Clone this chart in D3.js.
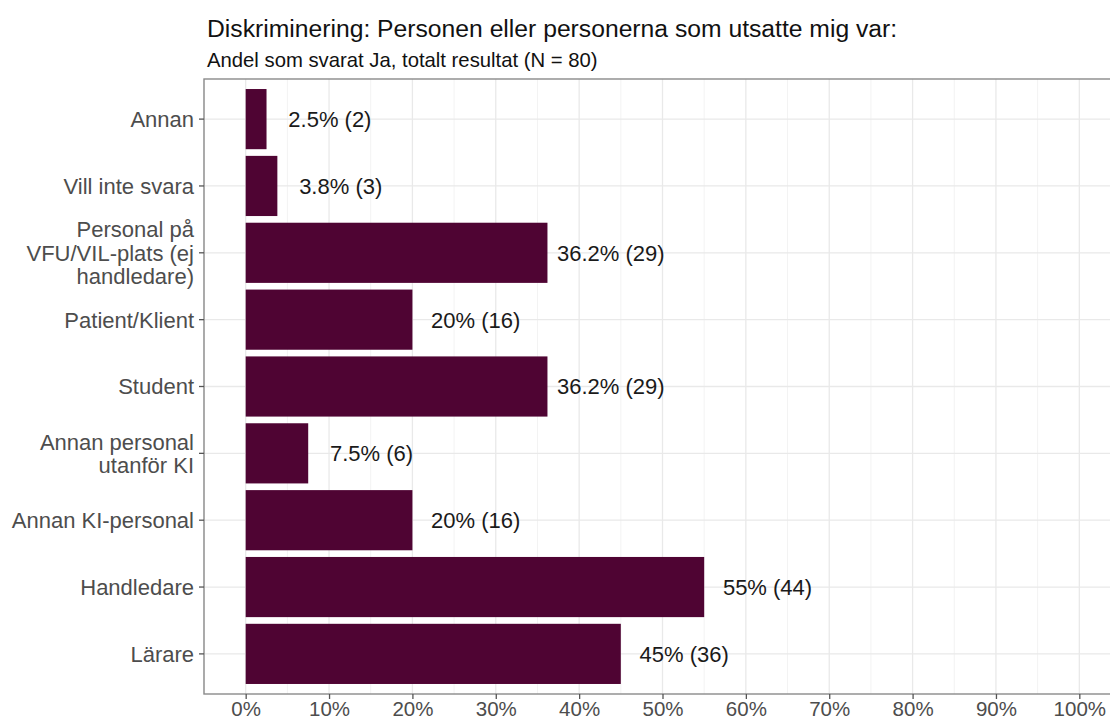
<!DOCTYPE html>
<html>
<head>
<meta charset="utf-8">
<script src="https://cdn.jsdelivr.net/npm/d3@7/dist/d3.min.js"></script>
<style>
  body { margin: 0; background: #fff; }
  text { font-family: "Liberation Sans", Arial, sans-serif; }
</style>
</head>
<body>
<script>
// categories top to bottom
var categories = [
  'Annan',
  'Vill inte svara',
  'Personal på\nVFU/VIL-plats (ej\nhandledare)',
  'Patient/Klient',
  'Student',
  'Annan personal\nutanför KI',
  'Annan KI-personal',
  'Handledare',
  'Lärare'
];
var percents = [2.5, 3.8, 36.2, 20, 36.2, 7.5, 20, 55, 45];
var counts = [2, 3, 29, 16, 29, 6, 16, 44, 36];
var tickValues = [0, 10, 20, 30, 40, 50, 60, 70, 80, 90, 100];

var title = 'Diskriminering: Personen eller personerna som utsatte mig var:';
var subtitle = 'Andel som svarat Ja, totalt resultat (N = 80)';

var data = categories.map(function(c, i) {
  return {cat: c, pct: percents[i], n: counts[i]};
});

var fullWidth = 1110;
var fullHeight = 720;
var margin = {top: 79, left: 204, bottom: 26};

var svg = d3.select('body').append('svg')
  .attr('width', fullWidth)
  .attr('height', fullHeight);

var x = d3.scaleLinear()
  .domain([-5, 105])
  .range([margin.left, 1121]);

var y = d3.scaleBand()
  .domain(categories)
  .range([margin.top, fullHeight - margin.bottom])
  .paddingInner(0.1)
  .paddingOuter(0.15);

var panelBottom = fullHeight - margin.bottom;

// grid
var grid = svg.append('g');
d3.range(-5, 110, 10).forEach(function(v) {
  grid.append('line')
    .attr('x1', x(v)).attr('x2', x(v))
    .attr('y1', margin.top).attr('y2', panelBottom)
    .attr('stroke', '#f3f3f3').attr('stroke-width', 1);
});
tickValues.forEach(function(v) {
  grid.append('line')
    .attr('x1', x(v)).attr('x2', x(v))
    .attr('y1', margin.top).attr('y2', panelBottom)
    .attr('stroke', '#e9e9e9').attr('stroke-width', 1.3);
});
categories.forEach(function(c) {
  var yy = y(c) + y.bandwidth() / 2;
  grid.append('line')
    .attr('x1', margin.left).attr('x2', fullWidth)
    .attr('y1', yy).attr('y2', yy)
    .attr('stroke', '#e9e9e9').attr('stroke-width', 1.3);
});

// bars
svg.append('g').selectAll('rect')
  .data(data)
  .enter().append('rect')
    .attr('x', x(0))
    .attr('y', function(d) { return y(d.cat); })
    .attr('width', function(d) { return x(d.pct) - x(0); })
    .attr('height', y.bandwidth())
    .attr('fill', '#4f0433');

// value labels
svg.append('g').selectAll('text')
  .data(data)
  .enter().append('text')
    .attr('x', function(d) { return x(d.pct + 7.6); })
    .attr('y', function(d) { return y(d.cat) + y.bandwidth() / 2; })
    .attr('dy', '0.36em')
    .attr('text-anchor', 'middle')
    .style('font-size', '22px')
    .style('fill', '#1a1a1a')
    .text(function(d) { return d.pct + '% (' + d.n + ')'; });

// panel border
svg.append('rect')
  .attr('x', margin.left)
  .attr('y', margin.top)
  .attr('width', 1121 - margin.left)
  .attr('height', panelBottom - margin.top)
  .attr('fill', 'none')
  .attr('stroke', '#8a8a8a')
  .attr('stroke-width', 1.4);

// axes
var xAxis = d3.axisBottom(x)
  .tickValues(tickValues)
  .tickSize(5)
  .tickPadding(2)
  .tickFormat(function(d) { return d + '%'; });

var xAxisEle = svg.append('g')
  .attr('transform', 'translate(0,' + panelBottom + ')')
  .call(xAxis);
xAxisEle.select('.domain').remove();
xAxisEle.selectAll('line').attr('stroke', '#555').attr('stroke-width', 1.3);
xAxisEle.selectAll('text')
  .style('font-size', '20.5px')
  .style('fill', '#4d4d4d')
  .style('font-family', '"Liberation Sans", Arial, sans-serif');

var yAxis = d3.axisLeft(y).tickSize(5).tickPadding(4).tickFormat('');
var yAxisEle = svg.append('g')
  .attr('transform', 'translate(' + margin.left + ',0)')
  .call(yAxis);
yAxisEle.select('.domain').remove();
yAxisEle.selectAll('line').attr('stroke', '#555').attr('stroke-width', 1.3);

var lineH = 23.5;
yAxisEle.selectAll('.tick').each(function(d) {
  var lines = d.split('\n');
  var t = d3.select(this).append('text')
    .attr('x', -10)
    .attr('text-anchor', 'end')
    .style('font-size', '22px')
    .style('fill', '#4d4d4d');
  lines.forEach(function(l, i) {
    t.append('tspan')
      .attr('x', -10)
      .attr('y', (i - (lines.length - 1) / 2) * lineH)
      .attr('dy', '0.36em')
      .text(l);
  });
});

// titles
svg.append('text')
  .attr('x', 207)
  .attr('y', 37)
  .style('font-size', '24.7px')
  .style('fill', '#111')
  .text(title);

svg.append('text')
  .attr('x', 207)
  .attr('y', 67)
  .style('font-size', '20.3px')
  .style('fill', '#111')
  .text(subtitle);
</script>
</body>
</html>
